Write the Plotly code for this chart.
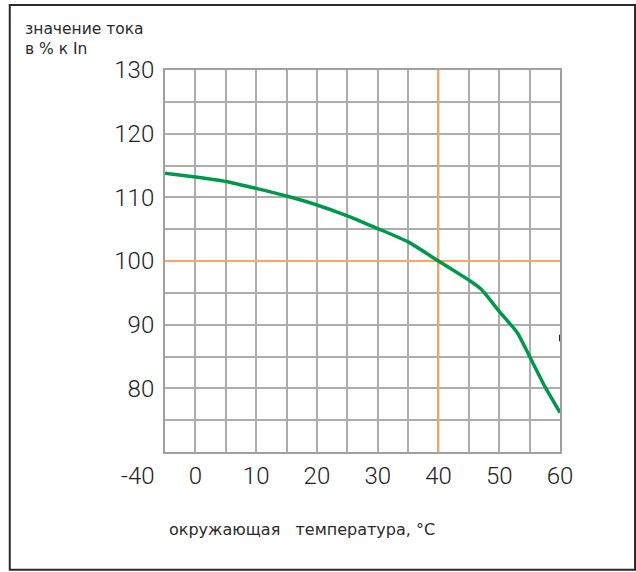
import plotly.graph_objects as go

# data
temperature = [-5, 0, 5, 10, 15, 20, 25, 30, 35, 40, 45, 47, 50, 53, 55, 57.5, 60]
current_pct = [113.8, 113.2, 112.5, 111.4, 110.2, 108.8, 107.1, 105.1, 103.0,
               100.0, 97.0, 95.6, 92.1, 88.7, 85.0, 80.3, 76.2]

x_tickvals = list(range(-5, 61, 5))
x_ticktext = [str(v) if (v % 10 == 0) else "" for v in x_tickvals]
y_tickvals = list(range(70, 131, 5))
y_ticktext = [str(v) if (v % 10 == 0 and v >= 80) else "" for v in y_tickvals]
low_label = "-40"
ref_temp = 40
ref_current = 100
x_range = [-5, 60]
y_range = [70, 130]
y_title = "значение тока<br>в % к In"
x_title = "окружающая\u00a0\u00a0\u00a0температура, °C"

TICK_FONT = dict(family="Roboto, Liberation Sans, sans-serif", size=24, color="#222222", weight=300)
TEXT_FONT = dict(family="DejaVu Sans, sans-serif", size=15.5, color="#2a2a2a")
GRID = "#adadad"
ORANGE = "#f7a864"

fig = go.Figure()
# reference lines (40 °C and 100 %)
fig.add_trace(go.Scatter(x=[ref_temp, ref_temp], y=y_range, mode="lines",
                         line=dict(color=ORANGE, width=2), hoverinfo="skip", showlegend=False))
fig.add_trace(go.Scatter(x=x_range, y=[ref_current, ref_current], mode="lines",
                         line=dict(color=ORANGE, width=2), hoverinfo="skip", showlegend=False))
fig.add_trace(go.Scatter(
    x=temperature, y=current_pct, mode="lines",
    line=dict(color="#00994c", width=3.5, shape="spline", smoothing=0.6),
    hoverinfo="skip", showlegend=False, cliponaxis=False,
))

fig.update_xaxes(
    range=x_range, tickmode="array", tickvals=x_tickvals, ticktext=x_ticktext,
    showgrid=True, gridcolor=GRID, gridwidth=1.5,
    showline=True, linecolor="#a0a0a0", linewidth=2, mirror=True,
    zeroline=False, ticks="", tickfont=TICK_FONT, ticklabelstandoff=1,
)
fig.update_yaxes(
    range=y_range, tickmode="array", tickvals=y_tickvals, ticktext=y_ticktext,
    showgrid=True, gridcolor=GRID, gridwidth=1.5,
    showline=True, linecolor="#a0a0a0", linewidth=2, mirror=True,
    zeroline=False, ticks="", tickfont=TICK_FONT, ticklabelstandoff=4,
)

# small dark mark at the right edge
fig.add_shape(type="line", xref="x", yref="y", x0=60, x1=60, y0=87.4, y1=88.4,
              line=dict(color="#222222", width=2))
# outer frame
fig.add_shape(type="rect", xref="paper", yref="paper",
              x0=-0.393, x1=1.19, y0=-0.308, y1=1.17,
              line=dict(color="#2a2a2a", width=2), fillcolor="rgba(0,0,0,0)")

fig.add_annotation(x=-5, y=0, xref="x", yref="paper", text=low_label, showarrow=False,
                   xanchor="center", yanchor="top", xshift=-27, yshift=-8, font=TICK_FONT)
fig.add_annotation(x=-0.36, y=1.137, xref="paper", yref="paper", text=y_title,
                   showarrow=False, xanchor="left", yanchor="top", align="left", font=TEXT_FONT)
fig.add_annotation(x=0.006, y=-0.172, xref="paper", yref="paper", text=x_title,
                   showarrow=False, xanchor="left", yanchor="top", align="left",
                   font=dict(TEXT_FONT, size=16))

fig.update_layout(
    width=636, height=572,
    margin=dict(l=165, r=76, t=70, b=120),
    paper_bgcolor="white", plot_bgcolor="white",
)
fig.write_html("out.html", config={"displayModeBar": False},
               post_script="document.body.style.margin='0';document.body.style.overflow='hidden';")
